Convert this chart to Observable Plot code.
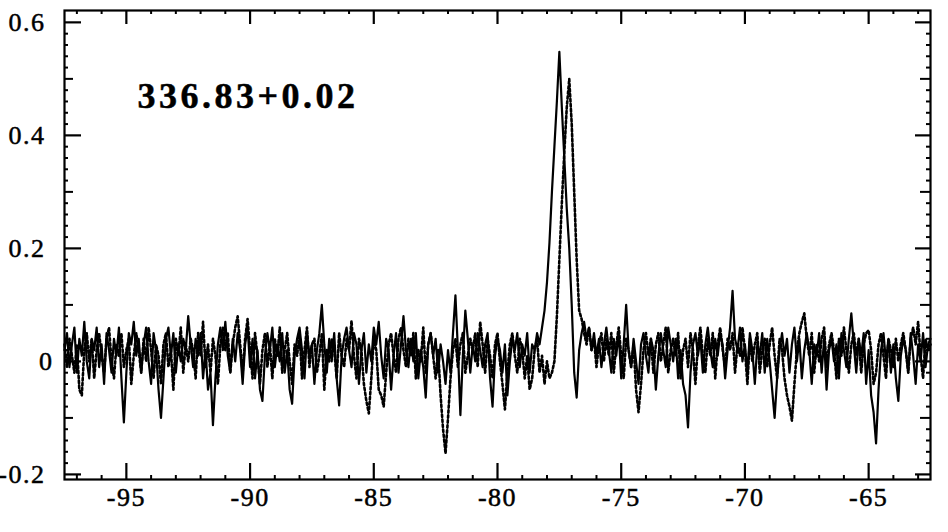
<!DOCTYPE html>
<html>
<head>
<meta charset="utf-8">
<script src="https://cdn.jsdelivr.net/npm/d3@7"></script>
<script src="https://cdn.jsdelivr.net/npm/@observablehq/plot@0.6"></script>
<style>
  html, body { margin: 0; padding: 0; background: #fff; }
  #chart svg { display: block; }
</style>
</head>
<body>
<div id="chart"></div>
<script>
// Channel grid (km/s)
const vStart = -97.5;
const vStep = 0.1;

// Solid spectrum per channel (-97.5 ... -62.5 km/s)
const solidT = [
  0.02, 0.05, -0.01, 0.03, 0.06, -0.02, 0.04, 0.01, 0.07, 0.00,
  -0.03, 0.04, 0.02, 0.06, -0.01, 0.03, -0.04, 0.05, 0.02, -0.02,
  0.04, 0.01, 0.06, -0.03, -0.108, -0.02, 0.05, 0.03, 0.07, 0.01,
  0.04, -0.02, 0.03, 0.06, 0.00, -0.04, 0.05, 0.02, -0.05, -0.10,
  -0.03, 0.04, 0.06, 0.01, 0.05, -0.02, 0.03, 0.00, 0.04, 0.02,
  0.08, 0.03, -0.01, 0.04, 0.01, 0.05, -0.03, 0.02, -0.05, -0.02,
  -0.113, -0.03, 0.03, 0.06, 0.02, 0.07, 0.01, -0.02, 0.04, 0.00,
  0.05, 0.02, -0.04, 0.03, 0.06, -0.01, 0.04, -0.03, 0.02, -0.05,
  -0.07, 0.01, 0.05, 0.02, 0.06, -0.01, 0.03, 0.00, 0.05, -0.02,
  0.02, -0.05, -0.075, 0.01, 0.04, 0.06, 0.02, -0.03, 0.05, 0.01,
  0.03, -0.04, 0.02, 0.05, 0.10, 0.03, -0.02, 0.04, 0.00, 0.05,
  -0.03, -0.078, 0.01, 0.04, 0.06, 0.02, -0.01, 0.05, 0.03, -0.04,
  0.02, 0.05, -0.02, 0.03, 0.00, 0.06, 0.03, 0.07, 0.01, -0.03,
  0.04, 0.02, -0.05, 0.01, 0.05, -0.02, 0.03, 0.08, 0.02, -0.01,
  0.04, 0.00, 0.05, -0.03, 0.02, -0.01, -0.064, 0.03, 0.05, 0.01,
  0.04, -0.02, 0.03, 0.00, -0.04, 0.02, -0.02, 0.05, 0.117, 0.02,
  -0.095, 0.01, 0.09, 0.04, -0.02, 0.03, 0.00, 0.05, 0.02, -0.01,
  0.03, 0.05, -0.03, -0.08, 0.01, 0.04, 0.02, -0.02, 0.03, -0.06,
  0.00, 0.04, 0.02, 0.05, -0.01, 0.03, 0.01, 0.05, -0.02, 0.03,
  0.02, 0.05, 0.03, 0.06, 0.09, 0.14, 0.21, 0.30, 0.38, 0.46,
  0.548, 0.45, 0.36, 0.27, 0.20, 0.10, -0.02, -0.064, 0.02, 0.05,
  0.07, 0.04, 0.06, 0.02, 0.05, 0.01, 0.04, -0.01, 0.03, 0.06,
  0.02, -0.02, 0.04, 0.01, 0.05, -0.03, 0.03, 0.10, 0.02, -0.01,
  0.04, 0.00, -0.04, 0.03, 0.05, 0.01, -0.02, 0.04, 0.02, -0.05,
  0.01, 0.05, 0.02, -0.01, 0.06, 0.03, 0.00, 0.04, -0.03, 0.02,
  -0.04, -0.06, -0.117, -0.02, 0.03, 0.05, 0.01, 0.04, -0.02, 0.03,
  0.06, 0.02, -0.01, 0.04, 0.01, 0.05, 0.03, -0.03, 0.02, 0.06,
  0.125, 0.04, 0.02, 0.06, 0.00, 0.03, -0.02, 0.05, 0.02, -0.04,
  0.03, 0.01, 0.05, -0.02, 0.04, 0.00, -0.05, -0.10, -0.03, 0.02,
  0.05, 0.01, 0.04, -0.02, 0.03, 0.06, 0.00, 0.04, -0.03, 0.02,
  0.05, 0.02, -0.04, 0.03, 0.01, 0.05, -0.02, 0.04, -0.05, 0.02,
  0.04, 0.00, 0.03, -0.03, 0.05, 0.02, -0.01, 0.04, 0.085, 0.03,
  -0.02, 0.04, 0.01, 0.05, -0.04, 0.02, -0.06, -0.09, -0.145, -0.05,
  0.02, 0.05, 0.00, 0.04, -0.02, 0.03, -0.03, -0.07, 0.01, 0.04,
  0.02, -0.02, 0.05, 0.01, -0.04, 0.03, 0.00, 0.05, -0.01, 0.03,
  0.04
];

// Dotted spectrum per channel (-97.5 ... -62.5 km/s)
const dottedT = [
  0.03, -0.01, 0.04, 0.01, -0.02, 0.03, -0.05, -0.06, 0.02, 0.05,
  0.00, 0.04, -0.03, 0.02, 0.05, 0.01, -0.02, 0.04, 0.06, 0.00,
  -0.03, 0.03, 0.01, 0.05, -0.01, 0.02, 0.04, -0.04, 0.01, 0.05,
  0.02, -0.02, 0.04, 0.00, 0.06, 0.02, -0.03, 0.03, 0.01, -0.04,
  0.03, 0.05, -0.01, 0.02, -0.05, 0.04, 0.01, 0.06, -0.02, 0.03,
  0.00, 0.04, 0.02, -0.03, 0.05, 0.01, 0.07, -0.01, 0.03, -0.02,
  0.04, 0.01, -0.04, 0.03, 0.06, 0.02, 0.05, -0.02, 0.03, 0.06,
  0.08, 0.03, -0.02, 0.04, 0.075, 0.02, -0.03, 0.05, 0.01, -0.04,
  0.02, 0.05, -0.01, 0.03, -0.03, 0.04, 0.01, 0.06, -0.02, 0.02,
  0.05, 0.00, -0.04, 0.03, 0.01, 0.05, -0.03, 0.02, 0.06, -0.01,
  0.03, 0.04, -0.02, 0.01, 0.05, -0.05, 0.02, 0.00, 0.04, 0.02,
  -0.03, 0.05, 0.01, -0.01, 0.04, 0.02, 0.072, 0.01, -0.03, 0.04,
  0.02, -0.04, -0.07, -0.092, -0.03, 0.04, 0.02, -0.05, -0.06, -0.08,
  -0.02, 0.03, 0.05, 0.01, -0.02, 0.04, 0.06, 0.02, -0.01, 0.04,
  0.01, 0.05, -0.03, 0.02, 0.00, 0.06, -0.02, 0.03, 0.05, 0.01,
  -0.03, 0.02, -0.06, -0.12, -0.163, -0.10, -0.03, 0.02, 0.04, -0.01,
  0.03, 0.05, -0.02, 0.01, 0.04, 0.02, 0.05, -0.01, 0.07, 0.03,
  -0.02, 0.04, 0.01, -0.03, 0.03, 0.05, 0.00, -0.04, -0.085, -0.02,
  0.03, 0.05, 0.01, -0.02, 0.04, 0.02, -0.03, 0.01, -0.05, -0.03,
  0.02, 0.04, -0.02, 0.01, -0.04, 0.00, -0.03, -0.02, 0.00, 0.08,
  0.18, 0.28, 0.37, 0.45, 0.50, 0.42, 0.30, 0.18, 0.09, 0.075,
  0.05, 0.03, 0.06, 0.02, 0.04, -0.01, 0.03, 0.05, 0.00, 0.04,
  0.01, 0.05, -0.02, 0.03, 0.06, 0.01, -0.03, 0.04, 0.02, -0.01,
  0.03, -0.05, -0.09, -0.04, 0.02, 0.05, 0.01, 0.04, -0.02, 0.03,
  0.05, 0.00, 0.03, 0.06, -0.02, 0.02, 0.04, 0.01, 0.05, -0.03,
  0.02, 0.04, -0.01, 0.05, 0.02, -0.04, 0.03, 0.06, 0.01, -0.02,
  0.04, 0.01, 0.05, -0.03, 0.03, 0.06, 0.02, -0.01, 0.04, 0.02,
  0.05, -0.02, 0.03, 0.01, 0.06, 0.02, -0.04, 0.04, 0.00, 0.03,
  0.05, -0.02, 0.02, 0.04, -0.01, 0.03, 0.06, 0.01, -0.03, 0.04,
  0.02, -0.03, -0.06, -0.08, -0.105, -0.04, 0.02, 0.05, 0.07, 0.085,
  0.04, 0.01, 0.05, -0.02, 0.03, 0.00, 0.04, 0.06, -0.01, 0.03,
  0.05, 0.02, -0.03, 0.04, 0.01, 0.06, 0.02, -0.02, 0.03, 0.05,
  0.01, 0.04, -0.02, 0.03, 0.05, 0.055, 0.02, -0.04, -0.02, 0.03,
  0.05, 0.01, -0.03, 0.04, 0.02, -0.01, 0.04, 0.00, 0.03, 0.05,
  0.02, -0.02, 0.04, 0.06, 0.03, 0.07, 0.01, -0.03, 0.04, 0.02,
  0.03
];

// Tick values
const xMajorTicks = [-95, -90, -85, -80, -75, -70, -65];
const xMinorTicks = [-97, -96, -94, -93, -92, -91, -89, -88, -87, -86, -84, -83, -82, -81,
  -79, -78, -77, -76, -74, -73, -72, -71, -69, -68, -67, -66, -64, -63];
const yMajorTicks = [-0.2, 0, 0.2, 0.4, 0.6];
const yMidTicks = [-0.1, 0.1, 0.3, 0.5];
const yMinorTicks = [-0.18, -0.16, -0.14, -0.12, -0.08, -0.06, -0.04, -0.02,
  0.02, 0.04, 0.06, 0.08, 0.12, 0.14, 0.16, 0.18, 0.22, 0.24, 0.26, 0.28,
  0.32, 0.34, 0.36, 0.38, 0.42, 0.44, 0.46, 0.48, 0.52, 0.54, 0.56, 0.58];

const sourceLabel = "336.83+0.02";

const solidRows = solidT.map((t, i) => ({v: vStart + vStep * i, t}));
const dottedRows = dottedT.map((t, i) => ({v: vStart + vStep * i, t}));

const W = 948, H = 532, mL = 64, mR = 18, mT = 10, mB = 53;
const innerW = W - mL - mR, innerH = H - mT - mB;
const serif = "'Times New Roman', 'Liberation Serif', Times, serif";

const chart = Plot.plot({
  width: W, height: H,
  marginLeft: mL, marginRight: mR, marginTop: mT, marginBottom: mB,
  style: {fontFamily: serif, fontSize: "26px", color: "black", background: "white", overflow: "visible"},
  x: {domain: [-97.5, -62.5]},
  y: {domain: [-0.209, 0.621]},
  marks: [
    Plot.axisX(xMajorTicks, {tickSize: 0, tickPadding: 8, fontSize: 26, fontFamily: serif, tickFormat: d => String(d), label: null}),
    Plot.axisY(yMajorTicks, {tickSize: 0, tickPadding: 19, fontSize: 26, fontFamily: serif, tickFormat: d => String(d), label: null}),
    // bottom / top ticks
    Plot.tickX(xMajorTicks, {x: d => d, insetTop: innerH - 16, strokeWidth: 2.2}),
    Plot.tickX(xMajorTicks, {x: d => d, insetBottom: innerH - 14, strokeWidth: 2.2}),
    Plot.tickX(xMinorTicks, {x: d => d, insetTop: innerH - 4, strokeWidth: 2}),
    Plot.tickX(xMinorTicks, {x: d => d, insetBottom: innerH - 4, strokeWidth: 2}),
    // left / right ticks
    Plot.tickY(yMajorTicks, {y: d => d, insetRight: innerW - 17, strokeWidth: 2.2}),
    Plot.tickY(yMajorTicks, {y: d => d, insetLeft: innerW - 15, strokeWidth: 2.2}),
    Plot.tickY(yMidTicks, {y: d => d, insetRight: innerW - 9, strokeWidth: 2}),
    Plot.tickY(yMidTicks, {y: d => d, insetLeft: innerW - 10, strokeWidth: 2}),
    Plot.tickY(yMinorTicks, {y: d => d, insetRight: innerW - 4, strokeWidth: 2}),
    Plot.tickY(yMinorTicks, {y: d => d, insetLeft: innerW - 4, strokeWidth: 2}),
    Plot.line(dottedRows, {x: "v", y: "t", stroke: "black", strokeWidth: 2.6, strokeDasharray: "2.5,2.5"}),
    Plot.line(solidRows, {x: "v", y: "t", stroke: "black", strokeWidth: 2.2}),
    Plot.text([sourceLabel], {frameAnchor: "top-left", dx: 73, dy: 86, textAnchor: "start", lineAnchor: "middle",
      fontSize: 36, fontWeight: "bold", fontFamily: serif, fill: "black"}),
    Plot.frame({stroke: "black", strokeWidth: 2.2})
  ]
});
document.getElementById("chart").appendChild(chart);

// serif lettering, widened and thickened like the scanned original
const texts = d3.select(chart).selectAll("text");
texts.style("font-family", serif).style("letter-spacing", "1.5px")
  .style("stroke", "black").style("stroke-width", "0.5px");
texts.filter(function () { return this.textContent === sourceLabel; })
  .style("letter-spacing", "3.5px");
// the zero label sits a little closer to the axis in the original
texts.filter(function () { return this.textContent === "0"; })
  .each(function () {
    const t = this.getAttribute("transform") || "";
    this.setAttribute("transform", (t + " translate(8,0)").trim());
  });
</script>
</body>
</html>
